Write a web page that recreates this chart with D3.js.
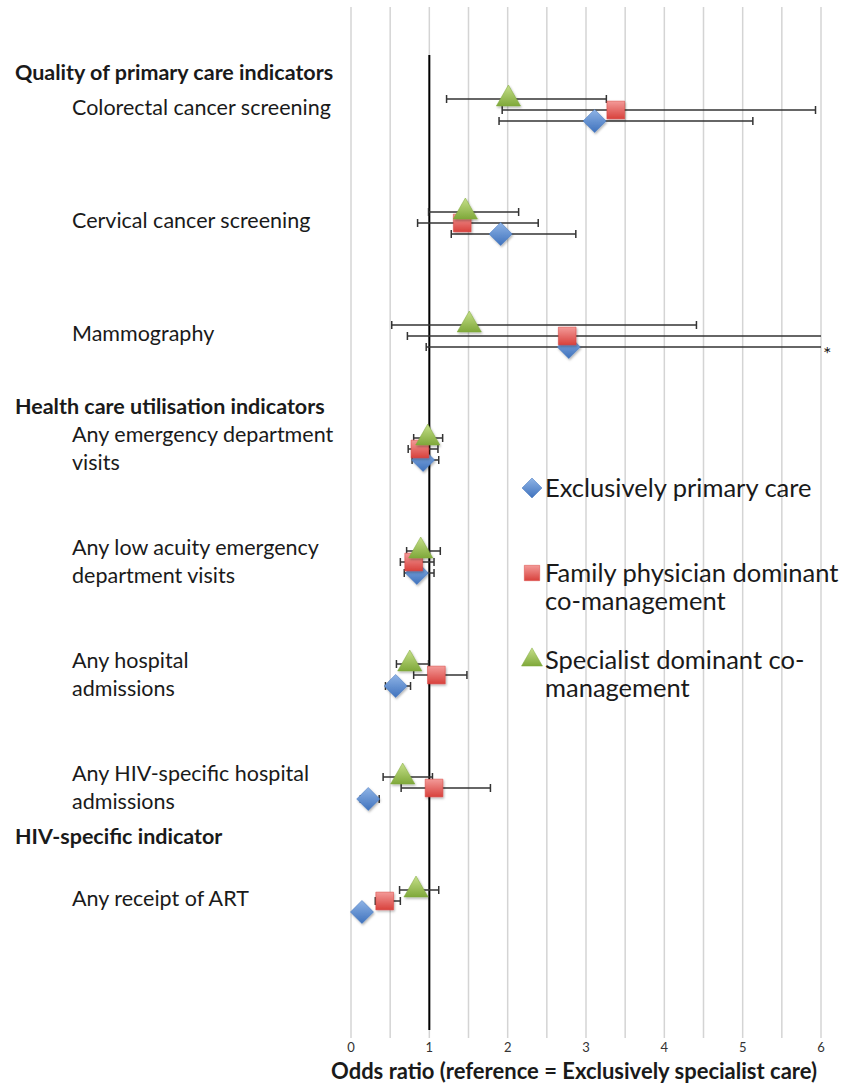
<!DOCTYPE html>
<html>
<head>
<meta charset="utf-8">
<script src="https://cdn.jsdelivr.net/npm/d3@7"></script>
<style>
  body { margin: 0; background: #fff; }
  text { font-family: Lato, "Open Sans", sans-serif; fill: #1a1a1a; }
</style>
</head>
<body>
<div id="chart"></div>
<script>
// categories (top to bottom) and their labels (split over lines)
var categories = ["colorectal", "cervical", "mammography", "ed", "lowacuity", "hospital", "hivhospital", "art"];
var categoryLabels = [
  ["Colorectal cancer screening"],
  ["Cervical cancer screening"],
  ["Mammography"],
  ["Any emergency department", "visits"],
  ["Any low acuity emergency", "department visits"],
  ["Any hospital", "admissions"],
  ["Any HIV-specific hospital", "admissions"],
  ["Any receipt of ART"]
];
var headers = ["Quality of primary care indicators", "Health care utilisation indicators", "HIV-specific indicator"];

var seriesNames = ["Exclusively primary care", "Family physician dominant co-management", "Specialist dominant co-management"];

// odds ratios with lower / upper confidence limits
var primaryOR    = [3.11, 1.91, 2.78, 0.92, 0.84, 0.57, 0.22, 0.14];
var primaryLow   = [1.89, 1.28, 0.96, 0.78, 0.68, 0.44, 0.12, 0.10];
var primaryHigh  = [5.13, 2.87, 8.00, 1.12, 1.06, 0.76, 0.36, 0.19];

var familyOR     = [3.38, 1.42, 2.76, 0.88, 0.80, 1.09, 1.06, 0.43];
var familyLow    = [1.93, 0.85, 0.72, 0.73, 0.63, 0.80, 0.64, 0.31];
var familyHigh   = [5.93, 2.39, 7.50, 1.11, 1.06, 1.48, 1.78, 0.63];

var specialistOR   = [2.01, 1.46, 1.51, 0.98, 0.89, 0.75, 0.66, 0.83];
var specialistLow  = [1.22, 0.99, 0.52, 0.80, 0.71, 0.58, 0.41, 0.62];
var specialistHigh = [3.26, 2.14, 4.41, 1.17, 1.14, 0.99, 1.04, 1.12];

var xTicks = [0, 1, 2, 3, 4, 5, 6];
var xGrid = d3.range(0, 6.01, 0.5);

var width = 855, height = 1084;
var svg = d3.select("#chart").append("svg")
  .attr("width", width).attr("height", height);

var x = d3.scaleLinear().domain([0, 6]).range([351, 821]);
var y = d3.scalePoint().domain(categories).range([110, 901]);
var step = y.step();

// series offsets: specialist on top, family middle, primary bottom
var series = [
  {name: seriesNames[0], or: primaryOR, lo: primaryLow, hi: primaryHigh, shape: "diamond", dy: 11, c1: "#8fb4e6", c2: "#3f72bd"},
  {name: seriesNames[1], or: familyOR, lo: familyLow, hi: familyHigh, shape: "square", dy: 0, c1: "#f39a98", c2: "#d8413c"},
  {name: seriesNames[2], or: specialistOR, lo: specialistLow, hi: specialistHigh, shape: "triangle", dy: -11, c1: "#c6e08a", c2: "#7fa83a"}
];

var defs = svg.append("defs");
series.forEach(function(s, i) {
  var g = defs.append("linearGradient").attr("id", "grad" + i)
    .attr("x1", 0).attr("y1", 0).attr("x2", 0).attr("y2", 1);
  g.append("stop").attr("offset", "0%").attr("stop-color", s.c1);
  g.append("stop").attr("offset", "100%").attr("stop-color", s.c2);
});
var shadow = defs.append("filter").attr("id", "shadow").attr("x", "-30%").attr("y", "-30%").attr("width", "160%").attr("height", "160%");
shadow.append("feDropShadow").attr("dx", 1).attr("dy", 1.5).attr("stdDeviation", 1.2).attr("flood-color", "#000").attr("flood-opacity", 0.3);

// gridlines
svg.append("g").selectAll("line").data(xGrid).enter().append("line")
  .attr("x1", function(d) { return x(d); }).attr("x2", function(d) { return x(d); })
  .attr("y1", 7).attr("y2", 1038)
  .attr("stroke", "#d4d4d4").attr("stroke-width", 1.5);

// x axis tick labels
svg.append("g").selectAll("text").data(xTicks).enter().append("text")
  .attr("x", function(d) { return x(d); }).attr("y", 1052)
  .attr("text-anchor", "middle").style("font-size", "13px").style("fill", "#333")
  .text(function(d) { return d; });

svg.append("text")
  .attr("x", 574).attr("y", 1079)
  .attr("text-anchor", "middle").style("font-size", "22px").style("font-weight", "bold")
  .text("Odds ratio (reference = Exclusively specialist care)");

// reference line at OR = 1
svg.append("line")
  .attr("x1", x(1)).attr("x2", x(1)).attr("y1", 55).attr("y2", 1030)
  .attr("stroke", "#000").attr("stroke-width", 2);

// category labels
var labels = svg.append("g").selectAll("text").data(categories).enter().append("text")
  .attr("x", 72)
  .attr("y", function(d, i) { return y(d) + 5 - (categoryLabels[i].length - 1) * 12; })
  .style("font-size", "21.5px");
labels.each(function(d, i) {
  var t = d3.select(this);
  categoryLabels[i].forEach(function(line, j) {
    t.append("tspan").attr("x", 72).attr("dy", j === 0 ? 0 : 28).text(line);
  });
});

// group headers
var headerPos = [-0.33, 2.63, 6.43];
svg.append("g").selectAll("text").data(headers).enter().append("text")
  .attr("x", 15)
  .attr("y", function(d, i) { return y(categories[0]) + headerPos[i] * step + 7; })
  .style("font-size", "21.5px").style("font-weight", "bold")
  .text(function(d) { return d; });

var clip = function(v) { return Math.min(v, 6); };
function symbolPath(shape, size) {
  if (shape === "diamond") return d3.symbol().type(d3.symbolDiamond2).size(size * 0.85)();
  if (shape === "square") return d3.symbol().type(d3.symbolSquare2).size(size)();
  return d3.symbol().type(d3.symbolTriangle2).size(size * 1.05)();
}

// error bars
series.forEach(function(s) {
  var g = svg.append("g");
  categories.forEach(function(c, i) {
    var yy = y(c) + s.dy;
    g.append("line")
      .attr("x1", x(s.lo[i])).attr("x2", x(clip(s.hi[i])))
      .attr("y1", yy).attr("y2", yy)
      .attr("stroke", "#333").attr("stroke-width", 1.5);
    g.append("line")
      .attr("x1", x(s.lo[i])).attr("x2", x(s.lo[i]))
      .attr("y1", yy - 4).attr("y2", yy + 4)
      .attr("stroke", "#333").attr("stroke-width", 1.5);
    if (s.hi[i] <= 6) {
      g.append("line")
        .attr("x1", x(s.hi[i])).attr("x2", x(s.hi[i]))
        .attr("y1", yy - 4).attr("y2", yy + 4)
        .attr("stroke", "#333").attr("stroke-width", 1.5);
    }
  });
});

// markers
series.forEach(function(s, si) {
  svg.append("g").selectAll("path").data(categories).enter().append("path")
    .attr("d", symbolPath(s.shape, 400))
    .attr("transform", function(c, i) { return "translate(" + x(s.or[i]) + "," + (y(c) + s.dy) + ")"; })
    .attr("fill", "url(#grad" + si + ")")
    .attr("filter", "url(#shadow)")
    .attr("stroke", s.c2).attr("stroke-width", 0.5);
});

// asterisk for truncated interval
svg.append("text")
  .attr("x", x(6) + 2).attr("y", y("mammography") + 11 + 14)
  .style("font-size", "20px").text("*");

// legend
var legendY = [488, 573, 660];
var legendLines = [["Exclusively primary care"], ["Family physician dominant", "co-management"], ["Specialist dominant co-", "management"]];
var legend = svg.append("g").selectAll("g").data(series).enter().append("g")
  .attr("transform", function(d, i) { return "translate(532," + legendY[i] + ")"; });
legend.append("path")
  .attr("d", function(d) { return symbolPath(d.shape, 300); })
  .attr("fill", function(d, i) { return "url(#grad" + i + ")"; })
  .attr("stroke", function(d) { return d.c2; }).attr("stroke-width", 0.5);
legend.append("text")
  .attr("x", 13).attr("y", 9)
  .style("font-size", "25.5px")
  .each(function(d, i) {
    var t = d3.select(this);
    legendLines[i].forEach(function(line, j) {
      t.append("tspan").attr("x", 13).attr("dy", j === 0 ? 0 : 28).text(line);
    });
  });
</script>
</body>
</html>
